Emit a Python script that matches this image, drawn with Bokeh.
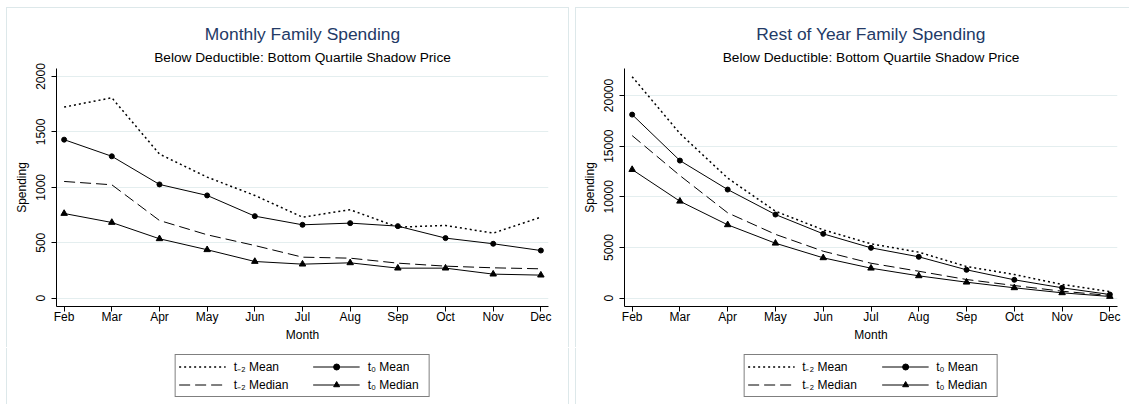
from bokeh.plotting import figure
from bokeh.models import FixedTicker, Legend, LegendItem, Title, Range1d, Spacer
from bokeh.layouts import row, column
from bokeh.embed import file_html
from bokeh.resources import INLINE

months = ["Feb", "Mar", "Apr", "May", "Jun", "Jul", "Aug", "Sep", "Oct", "Nov", "Dec"]

# Monthly family spending
monthly_tm2_mean = [1724, 1808, 1300, 1092, 927, 731, 798, 641, 656, 587, 731]
monthly_t0_mean = [1430, 1280, 1026, 927, 740, 662, 677, 650, 542, 491, 430]
monthly_tm2_median = [1053, 1023, 701, 572, 475, 370, 361, 316, 289, 274, 265]
monthly_t0_median = [764, 683, 536, 437, 331, 307, 319, 271, 271, 217, 208]
monthly_yticks = [0, 500, 1000, 1500, 2000]

# Rest of year family spending
rest_tm2_mean = [21860, 16250, 11850, 8580, 6745, 5365, 4540, 3126, 2337, 1351, 660]
rest_t0_mean = [18116, 13580, 10720, 8254, 6351, 4970, 4083, 2800, 1815, 1026, 365]
rest_tm2_median = [16045, 12100, 8422, 6300, 4635, 3450, 2660, 1844, 1250, 690, 266]
rest_t0_median = [12690, 9566, 7240, 5424, 3984, 2960, 2206, 1580, 1026, 533, 168]
rest_yticks = [0, 5000, 10000, 15000, 20000]

NB = "\u00a0"
labels = ["t\u208b\u2082 Mean", "t\u208b\u2082 Median" + NB * 7, "t\u2080 Mean", "t\u2080 Median" + NB * 2]

FONT = "Liberation Sans"
GRID = "#e4eeef"
BORDER = "#dde8ea"
TITLE_COLOR = "#233a66"

STYLES = [
    dict(line_color="black", line_width=1.5, line_dash="2 3"),
    dict(line_color="black", line_width=1, line_dash="11 5"),
    dict(line_color="black", line_width=1),
    dict(line_color="black", line_width=1),
]


def draw_series(fig, x, tm2_mean, t0_mean, tm2_med, t0_med):
    r1 = fig.line(x, tm2_mean, **STYLES[0])
    r2 = fig.line(x, tm2_med, **STYLES[1])
    r3 = fig.line(x, t0_mean, **STYLES[2])
    r3m = fig.scatter(x, t0_mean, marker="circle", size=5, color="black")
    r4 = fig.line(x, t0_med, **STYLES[3])
    r4m = fig.scatter(x, t0_med, marker="triangle", size=6.5, color="black")
    return r1, r2, (r3, r3m), (r4, r4m)


def make_panel(title, subtitle, tm2_mean, t0_mean, tm2_med, t0_med, yticks, yrange,
               min_left, min_right, frame_w, shadow_top, shadow_bottom):
    x = list(range(len(months)))
    p = figure(frame_width=frame_w, frame_height=238, min_border_left=min_left,
               min_border_right=min_right, min_border_top=60, min_border_bottom=42,
               x_range=Range1d(-0.16, 10.16), y_range=Range1d(*yrange),
               output_backend="svg", toolbar_location=None,
               background_fill_color="white", border_fill_color="white",
               outline_line_color=None, styles={"box-shadow": shadow_top})
    p.add_layout(Title(text=subtitle, align="center", text_font=FONT, text_font_size="13.7px",
                       text_font_style="normal", text_color="black", standoff=7), "above")
    p.add_layout(Title(text=title, align="center", text_font=FONT, text_font_size="17.4px",
                       text_font_style="normal", text_color=TITLE_COLOR, standoff=2), "above")

    draw_series(p, x, tm2_mean, t0_mean, tm2_med, t0_med)

    p.xaxis.ticker = FixedTicker(ticks=x)
    p.xaxis.major_label_overrides = {i: m for i, m in enumerate(months)}
    p.yaxis.ticker = FixedTicker(ticks=yticks)
    p.xaxis.axis_label = "Month"
    p.yaxis.axis_label = "Spending"
    p.yaxis.major_label_orientation = "vertical"
    for ax in (p.xaxis, p.yaxis):
        ax.axis_line_color = "black"
        ax.axis_line_width = 1
        ax.major_tick_line_color = "black"
        ax.major_tick_out = 5
        ax.major_tick_in = 0
        ax.minor_tick_line_color = None
        ax.major_label_text_font = FONT
        ax.major_label_text_font_size = "12px"
        ax.axis_label_text_font = FONT
        ax.axis_label_text_font_size = "12px"
        ax.axis_label_text_font_style = "normal"
        ax.axis_label_text_color = "black"
        ax.major_label_text_color = "black"
    p.xaxis.major_label_standoff = -2
    p.xaxis.axis_label_standoff = 1
    p.yaxis.major_label_standoff = 6
    p.yaxis.axis_label_standoff = 5
    p.xgrid.grid_line_color = None
    p.ygrid.grid_line_color = GRID
    p.ygrid.grid_line_width = 1

    # legend strip below the chart (same horizontal frame, so it centres under the plot);
    # its series lie outside the strip's 0..1 y-range, only their legend samples show
    lg = figure(frame_width=frame_w, frame_height=56, min_border_left=min_left,
                min_border_right=min_right, min_border_top=0, min_border_bottom=0,
                x_range=Range1d(-0.16, 10.16), y_range=Range1d(0, 1), x_axis_type=None,
                y_axis_type=None, output_backend="svg", toolbar_location=None,
                background_fill_color="white", border_fill_color="white",
                outline_line_color=None, styles={"box-shadow": shadow_bottom})
    lg.xgrid.visible = False
    lg.ygrid.visible = False
    s1, s2, s3, s4 = draw_series(lg, x, tm2_mean, t0_mean, tm2_med, t0_med)
    leg = Legend(items=[LegendItem(label=labels[0], renderers=[s1]),
                        LegendItem(label=labels[2], renderers=list(s3)),
                        LegendItem(label=labels[1], renderers=[s2]),
                        LegendItem(label=labels[3], renderers=list(s4))],
                 ncols=2, location="top_center", orientation="horizontal",
                 border_line_color="black", border_line_width=1,
                 background_fill_color="white", background_fill_alpha=1,
                 label_text_font=FONT, label_text_font_size="12px", label_text_color="black",
                 glyph_width=47, glyph_height=15, label_height=15, label_width=0,
                 label_standoff=8, padding=3, spacing=1, margin=6,
                 label_text_baseline="middle", inactive_fill_alpha=0)
    lg.add_layout(leg, "center")
    return column(p, lg, spacing=0)


left = make_panel("Monthly Family Spending", "Below Deductible: Bottom Quartile Shadow Price",
                  monthly_tm2_mean, monthly_t0_mean, monthly_tm2_median, monthly_t0_median,
                  monthly_yticks, (-75, 2072), 49, 20, 492,
                  "-1px -1px 0 0 %s, 1px -1px 0 0 %s" % (BORDER, BORDER),
                  "-1px 0 0 0 %s, 1px 0 0 0 %s" % (BORDER, BORDER))
right = make_panel("Rest of Year Family Spending", "Below Deductible: Bottom Quartile Shadow Price",
                   rest_tm2_mean, rest_t0_mean, rest_tm2_median, rest_t0_median,
                   rest_yticks, (-819, 22664), 48, 13, 493,
                   "-1px -1px 0 0 %s" % BORDER, "-1px 0 0 0 %s" % BORDER)

layout = column(Spacer(height=8), row(Spacer(width=7), row(left, right, spacing=8)))
open("out.html", "w").write(file_html(layout, INLINE))
